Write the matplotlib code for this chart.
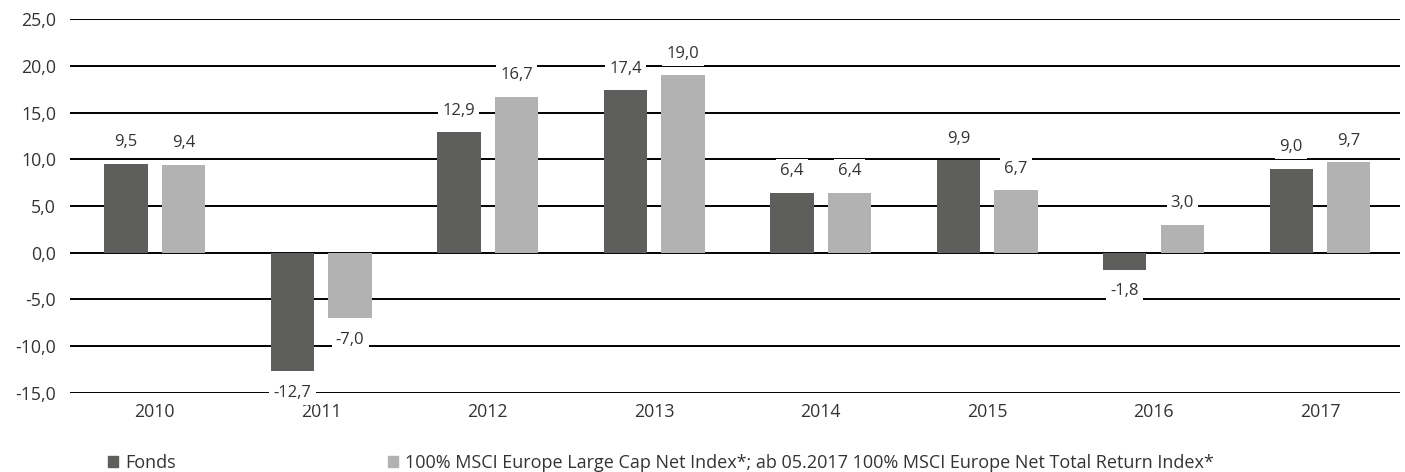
import numpy as np
import matplotlib.pyplot as plt
from matplotlib.patches import Patch

years = ['2010', '2011', '2012', '2013', '2014', '2015', '2016', '2017']
fonds = [9.5, -12.7, 12.9, 17.4, 6.4, 9.9, -1.8, 9.0]
index = [9.4, -7.0, 16.7, 19.0, 6.4, 6.7, 3.0, 9.7]
series_names = ['Fonds',
                '100% MSCI Europe Large Cap Net Index*; ab 05.2017 100% MSCI Europe Net Total Return Index*']
yticks = [-15, -10, -5, 0, 5, 10, 15, 20, 25]

dark = '#5e5e5c'
light = '#b2b2b2'
txt = '#333333'

plt.rcParams['font.family'] = ['Open Sans', 'DejaVu Sans']

fig = plt.figure(figsize=(14.05, 4.72), dpi=100)
ax = fig.add_axes([0.0498, 0.1674, 0.9466, 0.7923])

x = np.arange(len(years))
w = 0.26
off = 0.173
b1 = ax.bar(x - off, fonds, w, color=dark, zorder=2)
b2 = ax.bar(x + off, index, w, color=light, zorder=2)

def fmt(v):
    return ('%.1f' % v).replace('.', ',')

for bars, vals in ((b1, fonds), (b2, index)):
    for rect, v in zip(bars, vals):
        cx = rect.get_x() + rect.get_width() / 2
        dy = 15.5 if v >= 0 else -15.5
        ax.annotate(fmt(v), (cx, v), xytext=(0, dy), textcoords='offset points',
                    ha='center', va='center', fontsize=12, color=txt, zorder=4,
                    bbox=dict(boxstyle='square,pad=0.25', fc='white', ec='none'))

ax.set_ylim(-15, 25)
ax.set_xlim(-0.51, 7.48)
ax.set_yticks(yticks)
ax.set_yticklabels([fmt(t) for t in yticks], fontsize=12.8, color=txt)
ax.set_xticks(x)
ax.set_xticklabels(years, fontsize=12.8, color=txt)
ax.tick_params(axis='both', length=0)
ax.tick_params(axis='y', pad=10)
ax.tick_params(axis='x', pad=7)
ax.yaxis.grid(True, color='black', linewidth=1.4, zorder=1)
ax.set_axisbelow(True)
for s in ax.spines.values():
    s.set_visible(False)

handles = [Patch(color=dark), Patch(color=light)]
fig.legend(handles, series_names, loc='center left', bbox_to_anchor=(0.0705, 0.019),
           ncol=2, frameon=False, fontsize=13, handlelength=0.55, handleheight=0.55,
           handletextpad=0.4, columnspacing=11.75, borderpad=0, labelcolor=txt)

fig.savefig('out.png', dpi=100)
